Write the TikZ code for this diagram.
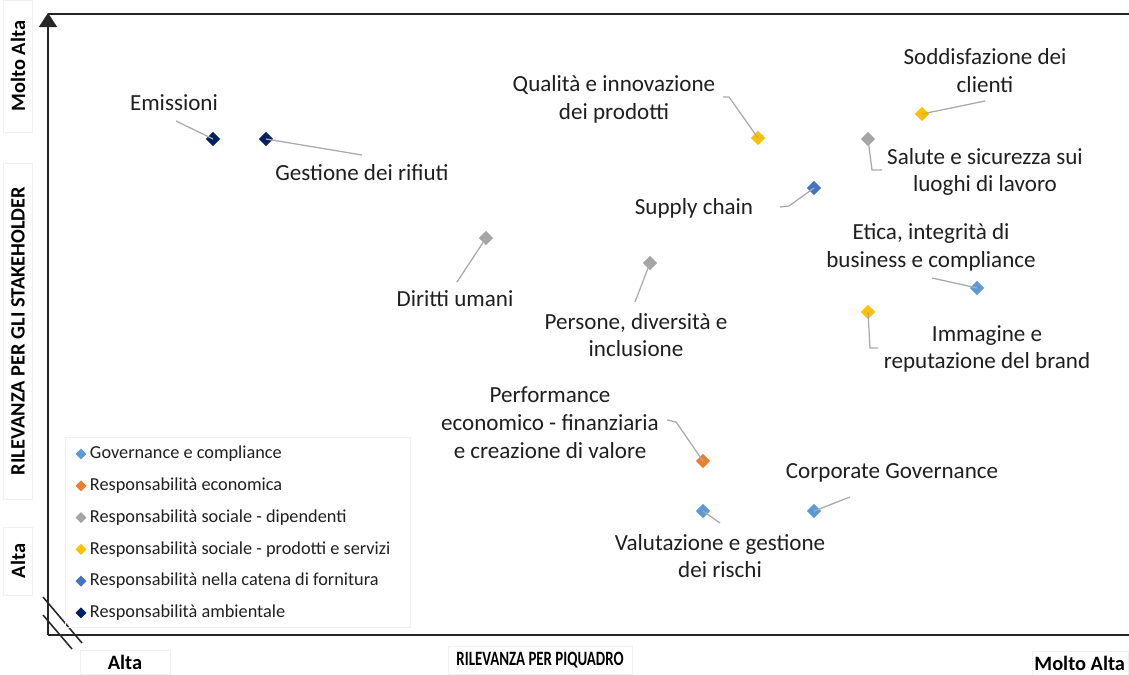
\documentclass[tikz,border=0pt]{standalone}
\usepackage{fontspec}
\setmainfont{Carlito}
\usetikzlibrary{arrows.meta, shapes.geometric, positioning}

\definecolor{govblue}{RGB}{91,155,213}
\definecolor{ecoorange}{RGB}{237,125,49}
\definecolor{socgray}{RGB}{165,165,165}
\definecolor{prodyellow}{RGB}{255,192,0}
\definecolor{chainblue}{RGB}{68,114,196}
\definecolor{envnavy}{RGB}{0,32,96}
\definecolor{leadgray}{RGB}{170,170,170}
\definecolor{boxgray}{RGB}{240,240,240}

\begin{document}
\begin{tikzpicture}[x=0.025cm, y=-0.025cm, node distance=0.5cm,
                    font=\fontsize{16.4}{19.8}\selectfont, text=black!88]
  \tikzstyle{topic}=[diamond, inner sep=0pt, minimum size=0.36cm]
  \tikzstyle{key}=[diamond, inner sep=0pt, minimum size=0.28cm]
  \tikzstyle{tag}=[align=center]
  \tikzstyle{keytext}=[font=\fontsize{13}{15}\selectfont, inner sep=2pt]
  \tikzstyle{lead}=[draw=leadgray, line width=0.9pt]
  \tikzstyle{axis}=[draw=black!85, line width=1.1pt]
  \tikzstyle{axislbl}=[font=\fontsize{14.5}{16}\selectfont\bfseries, text=black,
                       draw=boxgray, inner sep=0pt]

  \useasboundingbox (0,0) rectangle (1129,675);

  % axis titles
  \node[axislbl, rotate=90, minimum width=3.3cm, minimum height=0.72cm] (ymax) at (18,66)  {Molto Alta};
  \node[axislbl, rotate=90, minimum width=8.4cm, minimum height=0.72cm] (ytit) at (18,331) {RILEVANZA PER GLI STAKEHOLDER};
  \node[axislbl, rotate=90, minimum width=1.7cm, minimum height=0.72cm] (ymin) at (18,561) {Alta};
  \node[axislbl, minimum width=2.25cm, minimum height=0.6cm] (xmin) at (125,662) {Alta};
  \node[axislbl, minimum width=4.6cm, minimum height=0.7cm] (xtit) at (540,660)
       {\scalebox{0.73}[1]{RILEVANZA PER PIQUADRO}};
  \node[axislbl, minimum width=2.4cm, minimum height=0.6cm, anchor=east] (xmax) at (1129,663)
       {Molto Alta\hspace*{0.05cm}};

  % axes
  \coordinate (O)   at (48,635);
  \coordinate (top) at (48,13);
  \coordinate (rgt) at (1143,635);
  \draw[axis, -{Triangle[width=0.45cm, length=0.35cm]}] (O) -- (top);
  \draw[axis, -{Triangle[width=0.45cm, length=0.35cm]}] (O) -- (rgt);
  \draw[axis] (48,14) -- (1129,14);
  \draw[axis] (43,597) -- (82,643);
  \draw[axis] (43,615) -- (72,649);

  % legend
  \draw[boxgray] (65,437) rectangle (410,627);
  \node[key, fill=govblue]    (k1) at (81,454)      {};
  \node[key, fill=ecoorange]  (k2) [below=of k1]    {};
  \node[key, fill=socgray]    (k3) [below=of k2]    {};
  \node[key, fill=prodyellow] (k4) [below=of k3]    {};
  \node[key, fill=chainblue]  (k5) [below=of k4]    {};
  \node[key, fill=envnavy]    (k6) [below=of k5]    {};
  \node[keytext] (t1) [right=0pt of k1] {Governance e compliance};
  \node[keytext] (t2) [right=0pt of k2] {Responsabilità economica};
  \node[keytext] (t3) [right=0pt of k3] {Responsabilità sociale - dipendenti};
  \node[keytext] (t4) [right=0pt of k4] {Responsabilità sociale - prodotti e servizi};
  \node[keytext] (t5) [right=0pt of k5] {Responsabilità nella catena di fornitura};
  \node[keytext] (t6) [right=0pt of k6] {Responsabilità ambientale};

  % topics
  \node[topic, fill=envnavy]    (emi)  at (213,139) {};
  \node[topic, fill=envnavy]    (rif)  at (266,139) {};
  \node[topic, fill=prodyellow] (qual) at (758,138) {};
  \node[topic, fill=chainblue]  (supp) at (814,188) {};
  \node[topic, fill=prodyellow] (sodd) at (922,114) {};
  \node[topic, fill=socgray]    (salu) at (868,139) {};
  \node[topic, fill=socgray]    (dir)  at (486,238) {};
  \node[topic, fill=socgray]    (pers) at (650,263) {};
  \node[topic, fill=govblue]    (etic) at (977,288) {};
  \node[topic, fill=prodyellow] (imm)  at (868,312) {};
  \node[topic, fill=ecoorange]  (perf) at (703,461) {};
  \node[topic, fill=govblue]    (corp) at (814,511) {};
  \node[topic, fill=govblue]    (val)  at (703,511) {};

  \node[tag] (emi-t)  at (174,103) {Emissioni};
  \node[tag] (rif-t)  at (362,173) {Gestione dei rifiuti};
  \node[tag] (qual-t) at (614,99)  {Qualità e innovazione\\dei prodotti};
  \node[tag] (supp-t) at (694,208) {Supply chain};
  \node[tag] (sodd-t) at (985,71)  {Soddisfazione dei\\clienti};
  \node[tag] (salu-t) at (985,172) {Salute e sicurezza sui\\luoghi di lavoro};
  \node[tag] (dir-t)  at (455,299) {Diritti umani};
  \node[tag] (pers-t) at (636,335) {Persone, diversità e\\inclusione};
  \node[tag] (etic-t) at (931,247) {Etica, integrità di\\business e compliance};
  \node[tag] (imm-t)  at (987,349) {Immagine e\\reputazione del brand};
  \node[tag] (perf-t) at (550,423) {Performance\\economico - finanziaria\\e creazione di valore};
  \node[tag] (corp-t) at (892,473) {Corporate Governance};
  \node[tag] (val-t)  at (720,556) {Valutazione e gestione\\dei rischi};

  % leader lines
  \coordinate (emi-l)  at (176,121);
  \coordinate (rif-l)  at (362,155);
  \coordinate (qual-l) at (723,97);
  \coordinate (supp-l) at (780,207);
  \coordinate (sodd-l) at (985,101);
  \coordinate (salu-l) at (882,170);
  \coordinate (dir-l)  at (457,282);
  \coordinate (pers-l) at (635,302);
  \coordinate (etic-l) at (932,278);
  \coordinate (imm-l)  at (878,348);
  \coordinate (perf-l) at (667,420);
  \coordinate (corp-l) at (850,497);
  \coordinate (val-l)  at (720,523);

  \path (emi-l)  edge[lead] (emi.center)
        (rif-l)  edge[lead] (rif.center)
        (sodd-l) edge[lead] (sodd.center)
        (dir-l)  edge[lead] (dir.center)
        (pers-l) edge[lead] (pers.center)
        (etic-l) edge[lead] (etic.center)
        (corp-l) edge[lead] (corp.center)
        (val-l)  edge[lead] (val.center);
  \draw[lead] (qual-l) -- ++(6,0) -- (qual.center);
  \draw[lead] (supp-l) -- ++(9,-1) -- (supp.center);
  \draw[lead] (salu-l) -- ++(-10,0) -- (salu.center);
  \draw[lead] (imm-l)  -- ++(-8,0) -- (imm.center);
  \draw[lead] (perf-l) -- ++(9,2) -- (perf.center);
\end{tikzpicture}
\end{document}
